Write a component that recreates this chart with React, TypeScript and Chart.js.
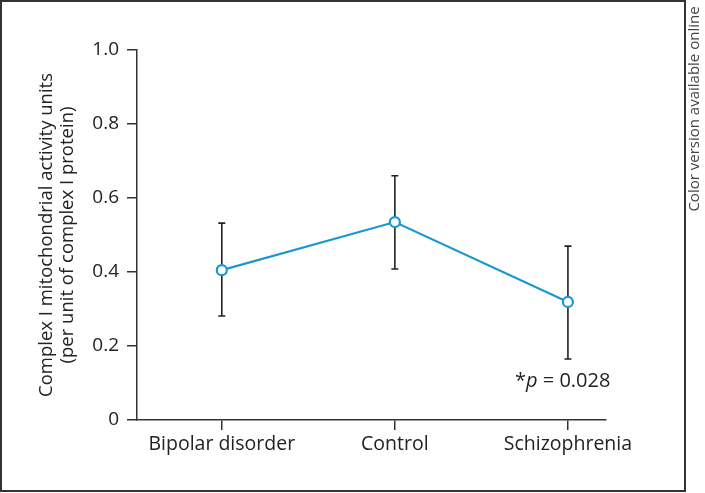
import React, { useEffect, useRef } from 'react';
import { Chart, registerables } from 'chart.js';

Chart.register(...registerables);

const categories = ['Bipolar disorder', 'Control', 'Schizophrenia'];
const meanValues = [0.405, 0.535, 0.319];
const upperValues = [0.532, 0.66, 0.47];
const lowerValues = [0.281, 0.408, 0.165];
const yTickValues = [0, 0.2, 0.4, 0.6, 0.8, 1.0];
const yTitleLines = ['Complex I mitochondrial activity units', '(per unit of complex I protein)'];
const sideNote = 'Color version available online';
const pStar = '*';
const pItalic = 'p';
const pRest = ' = 0.028';

const FONT = '"Open Sans", "DejaVu Sans", sans-serif';
const LINE_COLOR = '#1a96d2';
const AXIS_COLOR = '#333333';
const TEXT_COLOR = '#222222';

const extrasPlugin = {
  id: 'extras',
  beforeDatasetsDraw(chart: any) {
    const { ctx, scales } = chart;
    const xs = scales.x;
    const ys = scales.y;
    ctx.save();
    ctx.strokeStyle = '#222';
    ctx.lineWidth = 1.6;
    meanValues.forEach((_, i) => {
      const x = xs.getPixelForValue(i);
      const yHi = ys.getPixelForValue(upperValues[i]);
      const yLo = ys.getPixelForValue(lowerValues[i]);
      ctx.beginPath();
      ctx.moveTo(x, yHi);
      ctx.lineTo(x, yLo);
      ctx.moveTo(x - 3.5, yHi);
      ctx.lineTo(x + 3.5, yHi);
      ctx.moveTo(x - 3.5, yLo);
      ctx.lineTo(x + 3.5, yLo);
      ctx.stroke();
    });
    ctx.restore();
  },
  afterDraw(chart: any) {
    const { ctx, chartArea, scales } = chart;
    ctx.save();
    // y title
    ctx.fillStyle = TEXT_COLOR;
    ctx.font = `18.5px ${FONT}`;
    ctx.textAlign = 'center';
    ctx.textBaseline = 'middle';
    const cy = (chartArea.top + chartArea.bottom) / 2;
    yTitleLines.forEach((line, k) => {
      ctx.save();
      ctx.translate(47 + k * 21, cy);
      ctx.rotate(-Math.PI / 2);
      ctx.fillText(line, 0, 0);
      ctx.restore();
    });
    // side note
    ctx.save();
    ctx.fillStyle = '#444';
    ctx.font = `15px ${FONT}`;
    ctx.translate(695, 109);
    ctx.rotate(-Math.PI / 2);
    ctx.fillText(sideNote, 0, 0);
    ctx.restore();
    // p value
    const px = scales.x.getPixelForValue(1.97);
    const py = scales.y.getPixelForValue(0.105);
    ctx.textAlign = 'left';
    const f = 20;
    ctx.font = `${f}px ${FONT}`;
    const w1 = ctx.measureText(pStar).width;
    const w3 = ctx.measureText(pRest).width;
    ctx.font = `italic ${f}px ${FONT}`;
    const w2 = ctx.measureText(pItalic).width;
    let x = px - (w1 + w2 + w3) / 2;
    ctx.font = `${f}px ${FONT}`;
    ctx.fillText(pStar, x, py);
    x += w1;
    ctx.font = `italic ${f}px ${FONT}`;
    ctx.fillText(pItalic, x, py);
    x += w2;
    ctx.font = `${f}px ${FONT}`;
    ctx.fillText(pRest, x, py);
    ctx.restore();
  },
};

export default function App() {
  const canvasRef = useRef<HTMLCanvasElement | null>(null);

  useEffect(() => {
    const canvas = canvasRef.current;
    if (!canvas) return;
    const chart = new Chart(canvas, {
      type: 'line',
      data: {
        datasets: [
          {
            data: meanValues.map((v, i) => ({ x: i, y: v })),
            borderColor: LINE_COLOR,
            borderWidth: 2.2,
            pointRadius: 5,
            pointBorderWidth: 2.2,
            pointBackgroundColor: '#ffffff',
            pointBorderColor: LINE_COLOR,
            tension: 0,
            fill: false,
          },
        ],
      },
      options: {
        animation: false,
        responsive: false,
        devicePixelRatio: 1,
        layout: { padding: { top: 50, right: 99, left: 0, bottom: 0 } },
        plugins: { legend: { display: false }, tooltip: { enabled: false } },
        scales: {
          x: {
            type: 'linear',
            min: -0.49,
            max: 2.22,
            afterBuildTicks: (s: any) => {
              s.ticks = categories.map((_, i) => ({ value: i }));
            },
            afterFit: (s: any) => {
              s.height = 73;
            },
            ticks: {
              callback: (v: any) => categories[Math.round(Number(v))] ?? '',
              font: { family: FONT, size: 19.5 },
              color: TEXT_COLOR,
              padding: 3,
              maxRotation: 0,
              autoSkip: false,
            },
            grid: {
              display: true,
              drawOnChartArea: false,
              drawTicks: true,
              tickLength: 10,
              color: AXIS_COLOR,
              lineWidth: 1.5,
            },
            border: { display: true, color: AXIS_COLOR, width: 1.5 },
          },
          y: {
            type: 'linear',
            min: 0,
            max: 1,
            afterBuildTicks: (s: any) => {
              s.ticks = yTickValues.map((v) => ({ value: v }));
            },
            afterFit: (s: any) => {
              s.width = 137;
            },
            ticks: {
              callback: (v: any) => (Number(v) === 0 ? '0' : Number(v).toFixed(1)),
              font: { family: FONT, size: 19 },
              color: TEXT_COLOR,
              padding: 8,
            },
            grid: {
              display: true,
              drawOnChartArea: false,
              drawTicks: true,
              tickLength: 10,
              color: AXIS_COLOR,
              lineWidth: 1.5,
            },
            border: { display: true, color: AXIS_COLOR, width: 1.5 },
          },
        },
      },
      plugins: [extrasPlugin],
    } as any);
    return () => chart.destroy();
  }, []);

  return (
    <div style={{ position: 'fixed', left: 0, top: 0, width: 705, height: 493, background: '#fff' }}>
      <div
        style={{
          position: 'absolute',
          left: 0,
          top: 0,
          width: 686,
          height: 492,
          boxSizing: 'border-box',
          border: '2px solid #333',
        }}
      />
      <canvas ref={canvasRef} width={705} height={493} style={{ position: 'absolute', left: 0, top: 0, display: 'block' }} />
    </div>
  );
}
